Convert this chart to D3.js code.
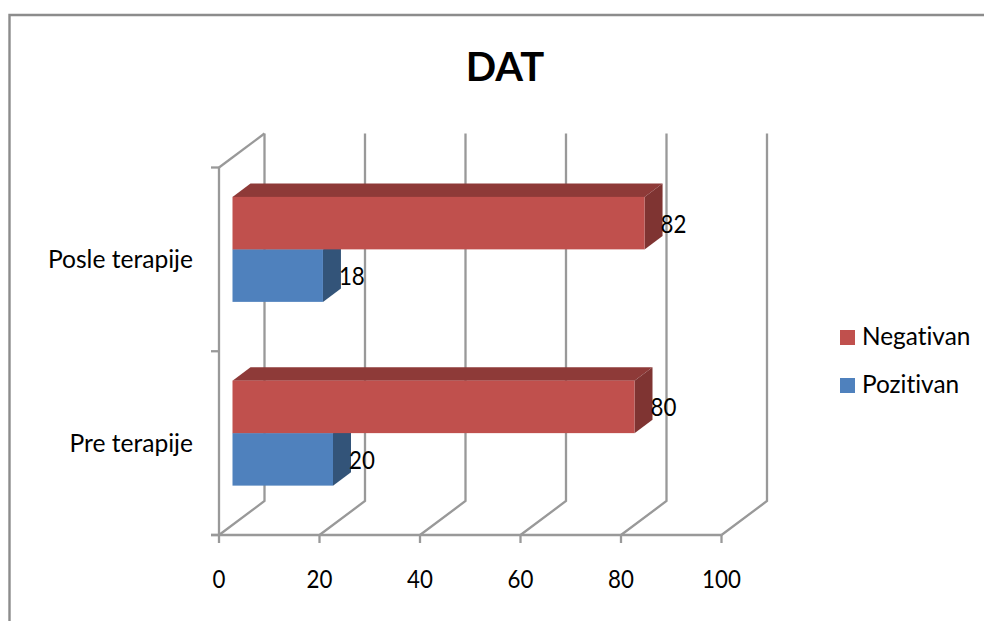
<!DOCTYPE html>
<html>
<head>
<meta charset="utf-8">
<style>
html, body { margin: 0; padding: 0; background: #fff; }
svg { display: block; }
text { font-family: Lato, "Open Sans", sans-serif; fill: #000; font-variant-ligatures: none; }
</style>
<script src="https://cdn.jsdelivr.net/npm/d3@7"></script>
</head>
<body>
<svg id="chart" width="984" height="621"></svg>
<script>
const categories = ["Posle terapije", "Pre terapije"];
const seriesNames = ["Negativan", "Pozitivan"];
const negativan = [82, 80];
const pozitivan = [18, 20];
const xTicks = [0, 20, 40, 60, 80, 100];
const chartTitle = "DAT";

const seriesColors = { Negativan: { front: "#C0504D", top: "#8E3A38", side: "#7F3432" },
                       Pozitivan: { front: "#4F81BD", top: "#3A6088", side: "#335479" } };
const seriesValues = { Negativan: negativan, Pozitivan: pozitivan };

const svg = d3.select("#chart");
const gridColor = "#999999";

// Floor edge of the plot and the oblique offset of the back wall
const x = d3.scaleLinear().domain([0, 100]).range([219, 721.5]);
const y = d3.scaleBand().domain(categories).range([167.5, 535]);
const wall = { dx: 45.5, dy: -34 };
const barShift = { dx: 13.5, dy: -10 };
const barDepth = { dx: 18, dy: -13.5 };
const inner = d3.scaleBand().domain(seriesNames).range([0, y.bandwidth()]).paddingOuter(0.75).paddingInner(0);

// Lato's figures are wide, so numbers are drawn slightly condensed
function numberLabel(parent, px, py, value, anchor) {
  parent.append("text")
    .attr("transform", `translate(${px},${py}) scale(0.91,1)`)
    .attr("text-anchor", anchor)
    .attr("font-size", 24.5)
    .text(value);
}

// Chart frame, open towards the right and bottom edges
svg.append("path")
  .attr("d", "M9.5,621V15H984")
  .attr("fill", "none").attr("stroke", "#8c8c8c").attr("stroke-width", 2.4);

const grid = svg.append("g").attr("fill", "none").attr("stroke", gridColor).attr("stroke-width", 2.3);

// Back-wall gridlines with their floor diagonals
xTicks.forEach(t => {
  const px = x(t);
  grid.append("path").attr("d", d3.line()([
    [px, y.range()[1]],
    [px + wall.dx, y.range()[1] + wall.dy],
    [px + wall.dx, y.range()[0] + wall.dy]
  ]));
  grid.append("line").attr("x1", px).attr("x2", px)
    .attr("y1", y.range()[1]).attr("y2", y.range()[1] + 8);
});

// Value axis along the floor front, category axis up the left side
grid.append("line").attr("x1", x(0) - 8).attr("x2", x(100))
  .attr("y1", y.range()[1]).attr("y2", y.range()[1]);
grid.append("line").attr("x1", x(0)).attr("x2", x(0))
  .attr("y1", y.range()[0]).attr("y2", y.range()[1]);
grid.append("path").attr("d", d3.line()([
  [x(0), y.range()[0]],
  [x(0) + wall.dx, y.range()[0] + wall.dy]
]));
[y.range()[0], y(categories[1]), y.range()[1]].forEach(py => {
  grid.append("line").attr("x1", x(0) - 8).attr("x2", x(0)).attr("y1", py).attr("y2", py);
});

// Extruded bars, lower series first so the upper bar's front covers its top face
const bars = svg.append("g");
const labels = svg.append("g");
categories.forEach((cat, i) => {
  seriesNames.slice().reverse().forEach(name => {
    const v = seriesValues[name][i];
    const c = seriesColors[name];
    const x0 = x(0) + barShift.dx;
    const x1 = x(v) + barShift.dx;
    const y0 = y(cat) + inner(name) + barShift.dy;
    const h = inner.bandwidth();
    const d = barDepth;
    bars.append("path").attr("fill", c.top).attr("d", d3.line()([
      [x0, y0], [x0 + d.dx, y0 + d.dy], [x1 + d.dx, y0 + d.dy], [x1, y0]
    ]) + "Z");
    bars.append("path").attr("fill", c.side).attr("d", d3.line()([
      [x1, y0], [x1 + d.dx, y0 + d.dy], [x1 + d.dx, y0 + h + d.dy], [x1, y0 + h]
    ]) + "Z");
    bars.append("rect").attr("fill", c.front)
      .attr("x", x0).attr("y", y0).attr("width", x1 - x0).attr("height", h);
    numberLabel(labels, x1 + d.dx - 2, y0 + h / 2 + 9.5, v, "start");
  });
});

// Axis labels
xTicks.forEach(t => numberLabel(svg, x(t), 588, t, "middle"));
categories.forEach(cat => {
  svg.append("text").attr("x", 193).attr("y", y(cat) + y.bandwidth() / 2 + 8.5)
    .attr("text-anchor", "end").attr("font-size", 24.6).text(cat);
});

// Title
svg.append("text").attr("x", 505).attr("y", 81).attr("text-anchor", "middle")
  .attr("font-size", 40).attr("font-weight", 700).text(chartTitle);

// Legend
const legendY = d3.scalePoint().domain(seriesNames).range([337.5, 385.5]);
seriesNames.forEach(name => {
  svg.append("rect").attr("x", 840).attr("width", 15).attr("height", 15)
    .attr("y", legendY(name) - 7.5).attr("fill", seriesColors[name].front);
  svg.append("text").attr("x", 862).attr("y", legendY(name) + 7.5)
    .attr("font-size", 24.4).text(name);
});
</script>
</body>
</html>
